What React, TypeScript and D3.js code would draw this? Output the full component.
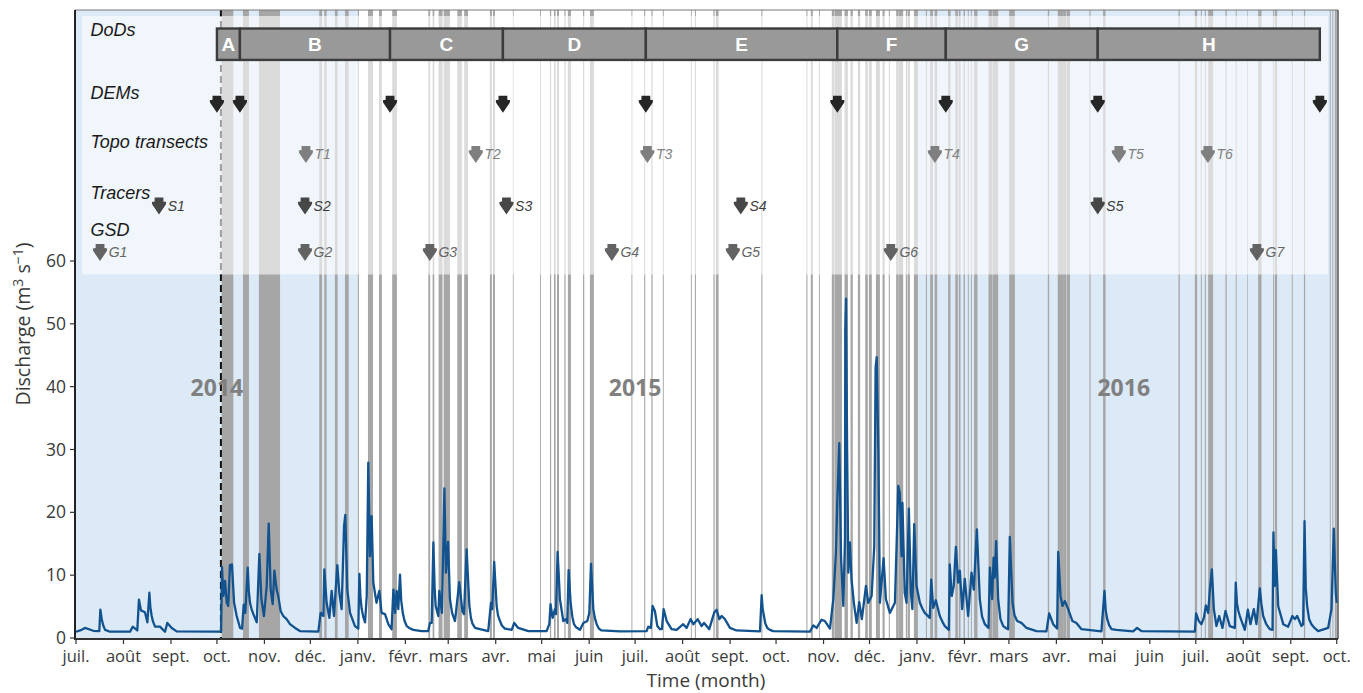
import React from "react";
import * as d3 from "d3";

// Days counted from 2014-07-01
const dischargeDays = [
0,3.7,5.9,11.3,15.2,15.9,16.8,19,22.2,35.3,37,40,41.1,42.4,45,46.6,47.9,49.4,51.6,54.8,58.1,59.6,62.5,65.7,91.8,94.7,95.3,96.2,97.3,98.4,99.4,100.5,101.8,103.2,104.9,107.1,108.4,109.5,110.5,112.1,113.6,115.8,118,119.7,121,122.7,124.5,125.8,127.1,128.4,129.5,131,132,133.6,135.3,137.5,139.7,143,146.2,158.2,159.7,161.5,162.1,163.6,165.4,166.9,168.4,170.6,171.9,173.4,175,175.8,177.1,178.9,182.1,184.3,185,186.5,188.7,189.8,190.8,191.9,193,194.1,196.2,198,199.5,201.7,203.9,206,207.2,208.3,209.3,210.4,211.5,213.3,215.9,220.2,225.6,229.9,231.1,232.2,233.3,234.8,236.5,237.2,238.9,240.5,241.5,242.9,244.1,247.4,250.2,252.2,253.3,255,256.8,260.5,
263.7,269.1,270.9,271.7,273,274.6,276.8,280,284.4,286.1,288.7,295.3,307.2,309,309.8,311.1,312.7,313.3,314.4,315.9,318.1,319.8,320.7,321.6,322.9,325.1,329,331.2,333.8,335.1,336.2,337.7,339.9,343.1,355.1,372.5,373.6,375.3,376.4,377.9,379.5,381.2,382.5,383.6,385.6,388.8,392.1,396.4,398.6,401.2,403,405.8,408.4,410,413.4,416.7,418.2,420,421.5,423.6,426.9,431.2,446.5,447.6,449.1,451.3,455.2,479.1,481.3,483.5,486.7,488.9,492.2,494.4,496.1,497,498.3,499.4,500.9,502,502.2,502.7,503.4,504.2,505.2,506.3,507.8,509.6,511.3,513,515.7,517.2,519.4,521.1,522,522.7,523.2,523.8,524.8,527.2,528.7,531.3,534.6,536.8,
537.8,538.9,539.5,541,542.2,543.7,545,546,547.2,548.7,550.9,554.1,557.4,558.3,559.6,561.3,563.9,567.2,569.8,570.4,571.7,573,574.4,575.9,577,578.5,580.2,582.4,584.6,586.1,588.1,590,593.3,595.7,596.6,598.1,599,599.8,600.7,602,605.3,608.5,609.6,611.4,614.4,617.2,620.5,627,633.5,635.3,637.9,640.5,641.2,642.7,644,645.5,647.7,650.5,653.1,656.4,669.4,671.4,673.2,676,679.2,690.1,692.7,695.6,730.4,731.2,733,734.7,736.3,737.6,739.1,740.2,741.5,742.8,744.5,746.3,748.4,750.4,753.2,756.5,757.1,759.8,763,765,766.7,768.9,770.6,772.8,775,779.3,781.1,781.7,782.6,783.3,784.8,788.1,791.3,794.1,795.7,797.2,800,801.1,802,803.7,806.5,810.9,817.4,819.6,821.1,822.4,823
];
const dischargeValues = [
1,1.3,1.6,1.15,1.1,4.5,3,1.3,1,1,1.8,1.2,6.1,4.4,4.1,2.5,7.2,3.5,1.8,1.8,1,2.4,1.6,1.05,1,1,11.3,6.7,9.1,5.6,5.1,11.6,11.7,5.6,3.5,1.6,1.5,5.3,4,11.2,5.6,3.8,2.5,13.4,6.2,3.5,8.3,18.2,7.7,5.4,10.7,7.7,6.7,4.3,3.5,3,2.2,1.6,1.1,1,4,3.5,10.9,5.6,3.2,7.5,3.5,11.6,7.2,4.6,17.8,19.6,7.7,4,1.9,1.5,10.2,4.6,2.5,6.7,27.9,13,19.4,8.8,5.6,7.5,4,3.8,2.2,1.4,7.7,4,7.5,4.6,10.1,4,1.9,1.3,1.1,1.1,2.4,2.4,15.2,5.1,3.5,7.5,4,23.8,10.4,15.3,6.2,2.7,8.9,4.3,3.8,14.1,5.1,1.6,
1.4,1.1,5.6,4.6,12.1,5.1,2.7,1.5,1.3,2.4,1.6,1.1,1.1,2.2,5.4,3.2,4.6,3.8,13.7,6.2,2.7,3,2.4,10.8,5.6,2.2,1.3,2.4,2.7,4,11.8,4.6,2.2,1.2,1.05,1.1,1.8,1.6,5.1,4.3,1.9,1.4,1.4,4.6,2.7,1.4,1.3,2.2,1.6,3,2.2,3,1.9,2.4,1.4,4.1,4.5,3,3.5,3,1.6,1.2,1.05,6.8,3.5,1.6,1.1,1,2,1.6,2.9,2.7,1.5,6.2,13.6,22,31,13,5.1,15.7,49,54,30,10.4,15.2,9.3,5.6,2.4,5.7,3,8.3,5.6,6.7,14.6,43,44.7,38,29.4,5.6,12.7,6.2,4,5.6,24.2,
23.1,13,21.5,7.2,5.6,20.6,7.2,4.6,18.1,8.3,5.6,4,3.2,9.3,4.8,6,3.5,1.9,1.3,11.7,6.7,8.3,14.5,8.8,10.7,4.6,9.4,3.5,10.4,7.7,17.3,6.2,2.2,1.6,11.2,6.2,12.8,9.6,15.4,6.2,1.9,1.4,16.1,5.6,2.7,2.4,1.6,1.1,1.05,3.9,2.2,1.5,13.7,6.7,5.1,5.9,4.6,2.7,2.4,1.4,1.05,7.5,3,1.4,1.3,1.05,1.6,1.1,1,3.9,2.7,2.2,3.2,5.2,4,7.7,10.9,4.6,1.9,3.5,1.6,4.3,1.9,1.6,8.8,3.5,1.3,4.5,2.2,4.6,2.2,7.9,3.5,1.4,1.3,16.8,8.3,14,5.1,2.2,1.8,3.5,3,3.5,1.9,2.2,18.6,5.1,2.2,1.1,1.6,4.6,17.4,7.2,5.6
];
// Extra readings on the falling limbs after the flood peaks
const recessionDays = [17.8,48.5,50.3,112.8,114.6,185.7,187.5,212.3,214.5,217.5,245.5,234.1,257.8,258.8,275.5,278,282,324,326.5,338.7,341.3,448.3,450,453,552.5,566,591.5,603.5,607,612.7,672.2,674.5,757.9,758.8,761.5,773.8,777,802.8,805,808.5];
const recessionValues = [2,5,2.6,7.5,4.6,6.5,3.4,6,2.7,1.6,4,8,3.2,2.3,3.6,2,1.4,3.4,1.7,3.2,1.5,4.6,2.3,1.3,4.7,2.4,3.4,3,1.6,3.6,4.4,2,5.5,4.3,2.3,5.5,2.2,8,3,1.6];

const bandStarts = [95.1,109,119.4,158.8,162.1,169,175.6,184,190.6,197.8,206.4,230,232.8,236.7,240,248.9,253.4,270.2,272.2,285.2,302.9,309.4,312,314,318.8,321.1,331,335.5,362.6,370.9,375.6,383.1,401.4,404,416.1,417.7,447.4,476.8,479.7,485,493.4,495.4,501.7,505.6,510.4,515.2,517.6,522.2,526.5,530.6,535.4,537,541.7,542.9,547,554.8,557.6,560.5,569.3,574,576.3,579.4,582.2,584.2,586.3,595.7,598.5,609.2,634.4,640.9,644.4,646.7,661.6,670.5,719.7,730.4,734.3,736.9,739.1,750.4,757.1,764.5,771.7,781.5,782.6,793.7,801.6,818.5,820.2,821.8];
const bandEnds = [102.7,112.9,133.2,160.6,163.6,170.8,178,184.7,193.9,199.7,209.5,231.2,233.9,239.3,244.1,251.9,255.9,271.5,273.5,285.7,303.5,310.2,313.1,315.3,319.6,323.1,331.8,338.1,363.2,371.6,376.4,383.7,402,404.7,416.9,419.5,448.1,477.5,481,485.6,495.2,500,503.9,507.1,511.9,516.9,519.5,524.8,527.9,531.3,537,540,542.6,544.4,549.6,555.5,559.4,562.2,570.9,575.7,577.4,580.3,582.8,584.8,588.5,598.3,602,612.9,635.3,644.4,646.4,648.9,662.3,672.1,720.6,731.9,734.9,737.6,742.3,751.2,757.7,764.9,773.9,782.1,784.1,794.3,802.4,819.1,820.8,823.1];

const yTicks = [0, 10, 20, 30, 40, 50, 60];
const monthLabels = ["juil.","août","sept.","oct.","nov.","déc.","janv.","févr.","mars","avr.","mai","juin","juil.","août","sept.","oct.","nov.","déc.","janv.","févr.","mars","avr.","mai","juin","juil.","août","sept.","oct."];

const demDays = [92,107,205,278.7,372,497,567.8,667,812];
const dodLabels = ["A","B","C","D","E","F","G","H"];
const transectDays = [150.1,261,373,560.7,680.8,738.9];
const tracerDays = [54.2,149.5,281,434,667];
const gsdDays = [15.7,149.5,231,349.8,428.8,531.9,770.9];

const yearLabels = ["2014","2015","2016"];
const yearLabelDays = [92,365,684];
const dryStart = [0,549];
const dryEnd = [184,823];

const rowTitles = ["DoDs","DEMs","Topo transects","Tracers","GSD"];
const rowTitleValues = [95.75,85.85,78,69.9,64];

const W = 1363, H = 693;
const LEFT = 75, RIGHT = 1338, TOP = 10, BOTTOM = 639;
const start = new Date(Date.UTC(2014, 6, 1));
const end = new Date(Date.UTC(2016, 9, 1));
const toDate = (d: number) => new Date(+start + d * 864e5);

const x = d3.scaleUtc().domain([start, end]).range([76, 1336.7]);
const y = d3.scaleLinear().domain([0, 60]).range([638, 261]);
const X = (d: number) => x(toDate(d));

const dischargeSeries = d3.sort(
  [
    ...dischargeDays.map((d, i) => [d, dischargeValues[i]] as [number, number]),
    ...recessionDays.map((d, i) => [d, recessionValues[i]] as [number, number]),
  ],
  (p) => p[0]
);
const line = d3.line<[number, number]>().x((p) => X(p[0])).y((p) => y(p[1]));
const months = d3.utcMonth.range(start, d3.utcDay.offset(end, 1));

const SANS = "'Liberation Sans', Arial, sans-serif";
const AXIS = "'Open Sans', sans-serif";
const TXT = "#3a3a3a";

function arrowPath(cx: number, tip: number) {
  const p = d3.path();
  p.moveTo(cx - 4.4, tip - 17);
  p.lineTo(cx + 4.4, tip - 17);
  p.lineTo(cx + 4.4, tip - 13);
  p.lineTo(cx + 7.2, tip - 12.5);
  p.lineTo(cx + 6.8, tip - 10);
  p.lineTo(cx, tip);
  p.lineTo(cx - 6.8, tip - 10);
  p.lineTo(cx - 7.2, tip - 12.5);
  p.lineTo(cx - 4.4, tip - 13);
  p.closePath();
  return p.toString();
}

function ArrowRow({ days, value, fill, prefix, textFill }: { days: number[]; value: number; fill: string; prefix: string; textFill: string }) {
  const tip = y(value);
  return (
    <g>
      {days.map((d, i) => (
        <g key={i}>
          <path d={arrowPath(X(d), tip)} fill={fill} />
          <text x={X(d) + 8.6} y={tip - 3.8} fontFamily={SANS} fontStyle="italic" fontSize={14} fill={textFill}>
            {prefix}{i + 1}
          </text>
        </g>
      ))}
    </g>
  );
}

export default function App() {
  return (
    <svg width={W} height={H} viewBox={`0 0 ${W} ${H}`} style={{ position: "absolute", left: 0, top: 0, display: "block", background: "#fff" }}>
      {dryStart.map((d, i) => (
        <rect key={i} x={i === 0 ? LEFT : X(d)} y={TOP} width={(i === 0 ? X(dryEnd[i]) - LEFT : RIGHT - X(d))} height={BOTTOM - TOP} fill="#dce9f7" />
      ))}
      {bandStarts.map((d, i) => (
        <rect key={i} x={X(d)} y={TOP} width={X(bandEnds[i]) - X(d)} height={BOTTOM - TOP} fill="#a6a6a6" />
      ))}
      <line x1={X(94.6)} x2={X(94.6)} y1={TOP} y2={BOTTOM} stroke="#111" strokeWidth={2} strokeDasharray="7 4" />
      <rect x={82} y={16} width={1246} height={258.5} fill="#fff" fillOpacity={0.6} />

      <path d={line(dischargeSeries) ?? ""} fill="none" stroke="#11528f" strokeWidth={2.3} strokeLinejoin="round" />

      {yearLabels.map((t, i) => (
        <text key={t} x={X(yearLabelDays[i])} y={396} textAnchor="middle" fontFamily={AXIS} fontWeight={700} fontSize={23} fill="#808080">{t}</text>
      ))}

      {/* DoD bars */}
      {dodLabels.map((t, i) => {
        const a = X(demDays[i]), b = X(demDays[i + 1]);
        return (
          <g key={t}>
            <rect x={a} y={y(97)} width={b - a} height={y(92) - y(97)} fill="#999" stroke="#3c3c3c" strokeWidth={2.4} />
            <text x={(a + b) / 2} y={y(94.5) + 6.8} textAnchor="middle" fontFamily={SANS} fontWeight={700} fontSize={19} fill="#fff">{t}</text>
          </g>
        );
      })}

      {demDays.map((d, i) => <path key={i} d={arrowPath(X(d), y(83.6))} fill="#262626" />)}
      <ArrowRow days={transectDays} value={75.6} fill="#7f7f7f" prefix="T" textFill="#808080" />
      <ArrowRow days={tracerDays} value={67.4} fill="#474747" prefix="S" textFill="#3c3c3c" />
      <ArrowRow days={gsdDays} value={60} fill="#636363" prefix="G" textFill="#666" />

      {rowTitles.map((t, i) => (
        <text key={t} x={90.5} y={y(rowTitleValues[i])} fontFamily={SANS} fontStyle="italic" fontSize={18} fill="#1a1a1a">{t}</text>
      ))}

      {/* frame */}
      <line x1={LEFT} x2={RIGHT} y1={TOP} y2={TOP} stroke="#777" strokeWidth={1} />
      <line x1={RIGHT} x2={RIGHT} y1={TOP} y2={BOTTOM} stroke="#555" strokeWidth={1.5} />
      <line x1={LEFT} x2={LEFT} y1={TOP} y2={BOTTOM + 1} stroke="#222" strokeWidth={2} />
      <line x1={LEFT} x2={RIGHT} y1={BOTTOM} y2={BOTTOM} stroke="#333" strokeWidth={2} />

      {/* axes */}
      {yTicks.map((t) => (
        <g key={t}>
          <line x1={LEFT - 5} x2={LEFT} y1={y(t)} y2={y(t)} stroke="#333" strokeWidth={1.2} />
          <text x={LEFT - 9} y={y(t) + 6} textAnchor="end" fontFamily={AXIS} fontSize={17.5} fill={TXT}>{t}</text>
        </g>
      ))}
      {months.map((m, i) => (
        <g key={i}>
          <line x1={x(m)} x2={x(m)} y1={BOTTOM} y2={BOTTOM + 5} stroke="#333" strokeWidth={1.2} />
          <text x={x(m)} y={662} textAnchor="middle" fontFamily={AXIS} fontSize={16.5} fill={TXT}>{monthLabels[i]}</text>
        </g>
      ))}
      <text x={706} y={687} textAnchor="middle" fontFamily={AXIS} fontSize={19} fill={TXT}>Time (month)</text>
      <text transform="translate(30,324) rotate(-90)" textAnchor="middle" fontFamily={AXIS} fontSize={19.5} fill={TXT}>
        Discharge (m<tspan dy={-7} fontSize={14}>3</tspan><tspan dy={7}> s</tspan><tspan dy={-7} fontSize={14}>−1</tspan><tspan dy={7}>)</tspan>
      </text>
    </svg>
  );
}
